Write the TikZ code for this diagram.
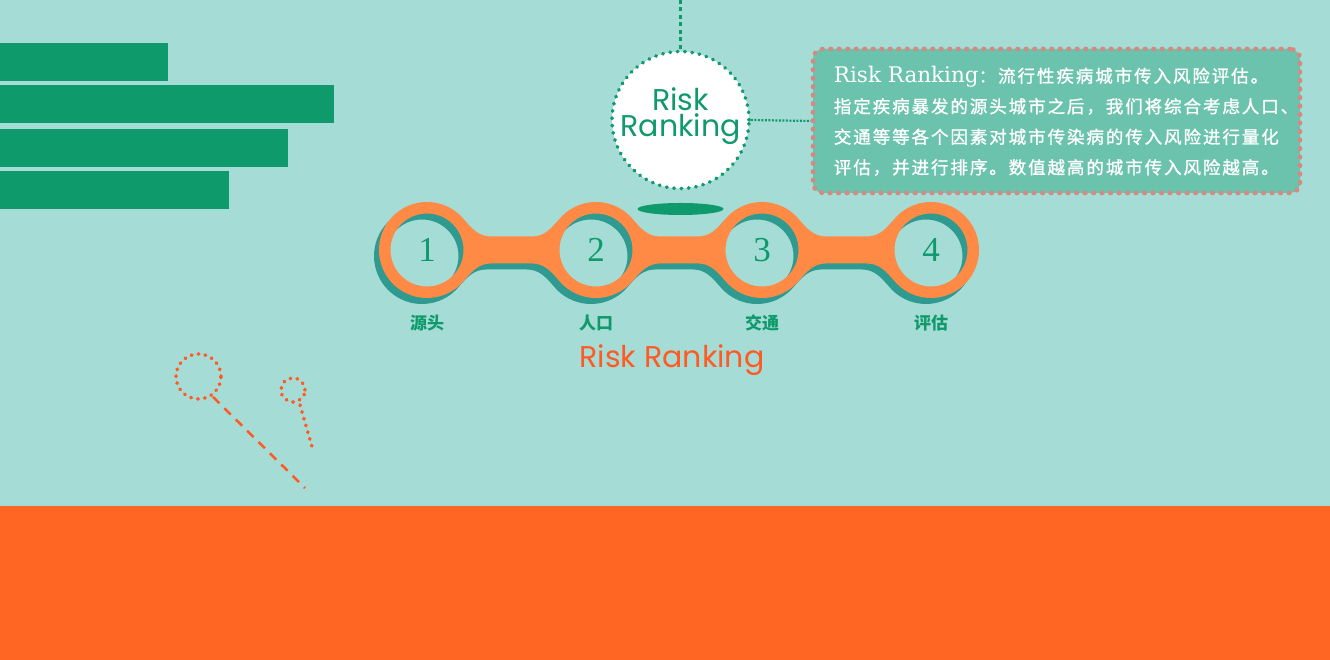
\documentclass[tikz,border=0pt]{standalone}
\usepackage{fontspec}
\usetikzlibrary{positioning}
\newfontfamily\cjkfont{Noto Sans CJK SC}
\newfontfamily\cjkspaced{Noto Sans CJK SC}[LetterSpace=11, FakeBold=1.2]
\newfontfamily\geofont{Poppins}
\newfontfamily\digitfont{Liberation Serif}
\newfontfamily\boxserif{DejaVu Serif}

\definecolor{bgteal}{HTML}{A6DCD6}
\definecolor{leafgreen}{HTML}{0F9A6C}
\definecolor{chainorange}{HTML}{FF8A45}
\definecolor{chainshadow}{HTML}{2E9A90}
\definecolor{floororange}{HTML}{FF6624}
\definecolor{titleorange}{HTML}{FF5A24}
\definecolor{boxfill}{HTML}{6BC3AD}
\definecolor{boxdots}{HTML}{D48A82}

% one link of the chain, lower edge (left to right) and upper edge (right to left)
\newcommand\linkdown[2]{.. controls +(8,9.5) and +(-12,0) .. ({#1+64},396.5) -- ({#2-64},396.5) .. controls +(12,0) and +(-8,9.5) .. ({#2-36.77},379.15)}
\newcommand\linkup[2]{.. controls +(-8,-9.5) and +(12,0) .. ({#1-64},423.5) -- ({#2+64},423.5) .. controls +(-12,0) and +(8,-9.5) .. ({#2+36.77},440.85)}

\begin{document}
\begin{tikzpicture}[
  x=1pt, y=1pt,
  every node/.style={inner sep=0pt},
  bar/.style={fill=leafgreen},
  num/.style={font=\digitfont\fontsize{35}{35}\selectfont, text=leafgreen},
  steplabel/.style={font=\cjkfont\bfseries\fontsize{17}{17}\selectfont, text=leafgreen},
  rrcircle/.style={circle, fill=white, draw=leafgreen, line width=3.6pt, line cap=round, dash pattern=on 0.6pt off 6.75pt, minimum size=137pt},
  descbox/.style={rectangle, rounded corners=10pt, fill=boxfill, draw=boxdots, line width=4.6pt, line cap=round, dash pattern=on 0.6pt off 7.9pt, minimum width=487pt, minimum height=144pt},
  decor/.style={draw=titleorange, line width=3.6pt, line cap=round}
]

% background and floor
\fill[bgteal] (0,0) rectangle (1330,660);
\useasboundingbox (0,0) rectangle (1330,660);
\fill[floororange] (0,0) rectangle (1330,154);

% green bars on the left
\fill[bar] (0,579) rectangle (168,617);
\fill[bar] (0,537) rectangle (334,575);
\fill[bar] (0,493) rectangle (288,531);
\fill[bar] (0,451) rectangle (229,489);

% chain with its shadow
\foreach \dx/\dy/\col in {-5/-6/chainshadow, 0/0/chainorange} {
  \fill[\col, even odd rule, shift={(\dx,\dy)}]
    (463.77,440.85) arc[start angle=40, end angle=320, radius=48]
    \linkdown{427}{596} arc[start angle=220, end angle=320, radius=48]
    \linkdown{596}{762} arc[start angle=220, end angle=320, radius=48]
    \linkdown{762}{931} arc[start angle=220, end angle=500, radius=48]
    \linkup{931}{762} arc[start angle=40, end angle=140, radius=48]
    \linkup{762}{596} arc[start angle=40, end angle=140, radius=48]
    \linkup{596}{427} -- cycle
    (427,410) circle[radius=36.5] (596,410) circle[radius=36.5]
    (762,410) circle[radius=36.5] (931,410) circle[radius=36.5];
}

% numbers and labels
\foreach \n/\x/\lab in {1/427/源头, 2/596/人口, 3/762/交通, 4/931/评估} {
  \node[num] (num\n) at (\x,410) {\n};
  \node[steplabel] (lab\n) at (\x,337) {\lab};
}
\node[font=\geofont\fontsize{30}{30}\selectfont, text=titleorange] (rrtitle) at (672,300) {Risk Ranking};

% circle on top, its shadow and the hanging line
\fill[leafgreen] (680.5,451) ellipse[x radius=43, y radius=6];
\coordinate (topend) at (680.5,660);
\node[rrcircle] (rrc) at (680.5,540) {};
\node[font=\geofont\fontsize{30}{26.5}\selectfont, text=leafgreen, align=center] (rrtext) at (680.5,544) {Risk\\Ranking};
\draw[leafgreen, line width=3.5pt, dash pattern=on 4pt off 3.5pt] (topend) -- (rrc.north);

% description box
\node[descbox] (desc) at (1056.5,539) {};
\node[anchor=west, align=left, text=white, font=\cjkspaced\fontsize{17.5}{30.5}\selectfont] (desctxt) at ([xshift=23pt]desc.west) {%
{\boxserif\fontsize{21.5}{30.5}\selectfont Risk Ranking}：流行性疾病城市传入风险评估。\\
指定疾病暴发的源头城市之后，我们将综合考虑人口、\\
交通等等各个因素对城市传染病的传入风险进行量化\\
评估，并进行排序。数值越高的城市传入风险越高。};
\draw[leafgreen, line width=2.2pt, dash pattern=on 2pt off 1.5pt] (rrc.east) -- (desc.west);

% dotted balloons at lower left
\draw[decor, dash pattern=on 0.6pt off 6.4pt] (198.5,283.5) circle[radius=22.5];
\draw[decor, dash pattern=on 0.6pt off 6.4pt] (293,270) circle[radius=12];
\draw[decor, line width=2.5pt, line cap=butt, dash pattern=on 9pt off 7pt] (213,263) -- (305,172);
\draw[decor, dash pattern=on 0.6pt off 6.4pt] (300,255) -- (313,210);

\end{tikzpicture}
\end{document}
